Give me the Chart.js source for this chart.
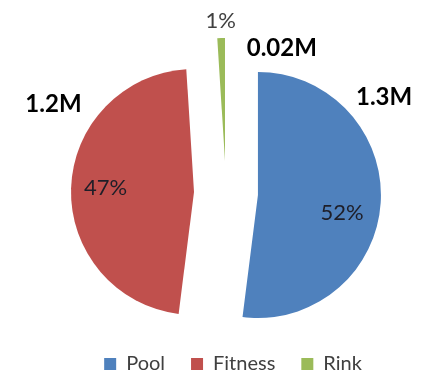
<!DOCTYPE html>
<html><head><meta charset="utf-8">
<script src="https://cdn.jsdelivr.net/npm/chart.js@4/dist/chart.umd.min.js"></script>
<style>html,body{margin:0;padding:0;background:#fff}</style>
</head><body>
<canvas id="c" width="428" height="374"></canvas>
<script>
const categories = ['Pool', 'Fitness', 'Rink'];
const shares = [52, 47, 1];          // percent of total
const amounts = [1.3, 1.2, 0.02];    // millions
const colors = ['#4F81BD', '#C0504D', '#9BBB59'];

const EXPLODE = 32;

const explodePlugin = {
  id: 'explode',
  beforeDatasetDraw(chart, args) {
    const ctx = chart.ctx;
    args.meta.data.forEach(arc => {
      const mid = (arc.startAngle + arc.endAngle) / 2;
      ctx.save();
      ctx.translate(Math.cos(mid) * EXPLODE, Math.sin(mid) * EXPLODE);
      arc.draw(ctx);
      ctx.restore();
    });
    return false;
  }
};

const pctPlace = [{da: 8.5, f: 0.70}, {da: 1, f: 0.72}, {da: 0, f: 1.14}];
const valPlace = [{a: 58.7, d: 185}, {a: 297.2, d: 194}, {a: 21.1, d: 155}];

const labelPlugin = {
  id: 'sliceLabels',
  afterDatasetsDraw(chart) {
    const meta = chart.getDatasetMeta(0);
    const ctx = chart.ctx;
    const cx = meta.data[0].x, cy = meta.data[0].y, R = meta.data[0].outerRadius;
    ctx.save();
    ctx.textAlign = 'center';
    ctx.textBaseline = 'middle';
    meta.data.forEach((arc, i) => {
      const mid = (arc.startAngle + arc.endAngle) / 2;
      const ex = cx + Math.cos(mid) * EXPLODE, ey = cy + Math.sin(mid) * EXPLODE;
      const p = pctPlace[i];
      const a = mid + p.da * Math.PI / 180;
      ctx.font = '22px Lato';
      ctx.fillStyle = i === 2 ? '#404040' : '#1e1e28';
      ctx.fillText(shares[i] + '%', ex + Math.cos(a) * p.f * R, ey + Math.sin(a) * p.f * R);
      const v = valPlace[i];
      const va = (v.a - 90) * Math.PI / 180;
      ctx.font = 'bold 24px Lato';
      ctx.fillStyle = '#000';
      ctx.fillText(amounts[i] + 'M', cx + Math.cos(va) * v.d, cy + Math.sin(va) * v.d);
    });
    ctx.restore();
  }
};

const legendShift = {
  id: 'legendShift',
  afterLayout(chart) {
    const l = chart.legend;
    l.left += 7; l.right += 7;
    l.top += 10; l.bottom += 10;
  }
};

new Chart(document.getElementById('c'), {
  type: 'pie',
  data: {
    labels: categories,
    datasets: [{
      data: shares,
      backgroundColor: colors,
      borderWidth: 0,
      radius: 123
    }]
  },
  options: {
    responsive: false,
    animation: false,
    layout: {padding: {top: 68, left: 24, right: 0, bottom: 0}},
    plugins: {
      tooltip: {enabled: false},
      legend: {
        position: 'bottom',
        labels: {
          font: {family: 'Lato', size: 20},
          color: '#404040',
          boxWidth: 12,
          boxHeight: 12,
          padding: 26
        }
      }
    }
  },
  plugins: [explodePlugin, labelPlugin, legendShift]
});
</script>
</body></html>
